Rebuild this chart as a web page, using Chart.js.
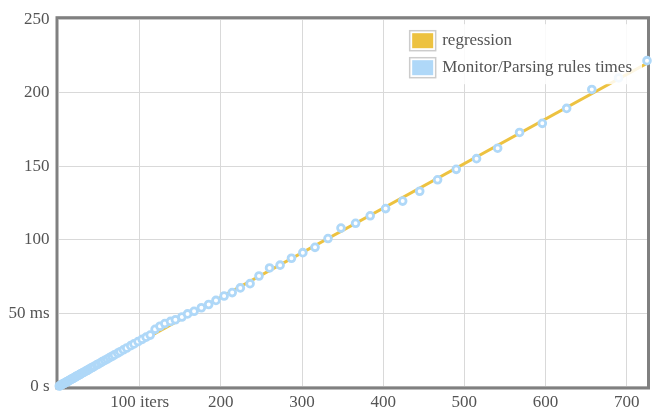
<!DOCTYPE html>
<html>
<head>
<meta charset="utf-8">
<script src="https://cdn.jsdelivr.net/npm/chart.js@4.4.1/dist/chart.umd.min.js"></script>
<style>
  html, body { margin: 0; padding: 0; background: #fff; }
  #wrap { width: 654px; height: 410px; }
</style>
</head>
<body>
<div id="wrap"><canvas id="timeChart"></canvas></div>
<script>
// iterations per sample and the measured total time (ms)
var iters = [1, 2, 3, 4, 5, 6, 7, 8, 9, 10,
    11, 12, 13, 14, 15, 16, 17, 18, 19, 20,
    21, 22, 23, 25, 26, 27, 28, 30, 31, 33,
    35, 36, 38, 40, 42, 44, 47, 49, 52, 54,
    57, 60, 63, 66, 69, 73, 76, 80, 84, 89,
    93, 98, 103, 108, 113, 119, 125, 131, 138, 144,
    152, 159, 167, 176, 185, 194, 204, 214, 224, 236,
    247, 260, 273, 287, 301, 316, 332, 348, 366, 384,
    403, 424, 445, 467, 490, 515, 541, 568, 596, 626,
    657, 690, 725];
var times = [0.3, 0.6, 0.9, 1.3, 1.6, 1.9, 2.2, 2.5, 2.8, 3.1,
    3.4, 3.7, 4.1, 4.4, 4.7, 5.0, 5.3, 5.6, 5.9, 6.2,
    6.6, 6.9, 7.2, 7.8, 8.1, 8.4, 8.7, 9.4, 9.7, 10.3,
    10.9, 11.2, 11.9, 12.5, 13.1, 13.7, 14.7, 15.3, 16.2, 16.9,
    17.8, 18.7, 19.7, 20.6, 21.5, 22.7, 23.7, 25.0, 26.2, 27.8,
    29.0, 30.6, 32.1, 33.6, 35.0, 38.9, 41.0, 42.8, 44.3, 45.4,
    47.3, 49.4, 51.2, 53.6, 55.8, 58.6, 61.6, 63.9, 67.1, 70.0,
    75.2, 80.7, 82.6, 87.3, 91.1, 94.7, 100.7, 107.8, 111.1, 116.2,
    121.1, 126.2, 132.9, 140.7, 147.8, 155.1, 162.2, 172.9, 179.1, 189.3,
    202.2, 210.0, 221.8];

// regression line (start and end)
var regIters = [0, 725];
var regTimes = [0, 220];

var xTicks = [100, 200, 300, 400, 500, 600, 700];
var xTickLabels = ['100 iters', '200', '300', '400', '500', '600', '700'];
var yTicks = [0, 50, 100, 150, 200, 250];
var yTickLabels = ['0 s', '50 ms', '100', '150', '200', '250'];

var textColor = '#545454';
var fontFace = '"Liberation Serif", "Times New Roman", serif';

function toPoints(xs, ys) {
    return xs.map(function (x, i) { return { x: x, y: ys[i] }; });
}

// grey frame round the plot area, under the data
var framePlugin = {
    id: 'frame',
    beforeDatasetsDraw: function (chart) {
        var a = chart.chartArea, ctx = chart.ctx;
        ctx.save();
        ctx.strokeStyle = '#808080';
        ctx.lineWidth = 3;
        ctx.strokeRect(a.left - 1.5, a.top - 1.5, a.right - a.left + 3, a.bottom - a.top + 3);
        ctx.restore();
    }
};

// legend box in the top right corner, over the data
var legendPlugin = {
    id: 'boxLegend',
    afterDatasetsDraw: function (chart) {
        var a = chart.chartArea, ctx = chart.ctx;
        var sets = chart.data.datasets;
        ctx.save();
        ctx.font = '17px ' + fontFace;
        var textW = 0;
        sets.forEach(function (d) { textW = Math.max(textW, ctx.measureText(d.label).width); });
        var right = a.right - 5, top = a.top + 5;
        var textX = right - 10 - textW;
        var swX = textX - 33;
        var left = swX - 6;
        ctx.fillStyle = 'rgba(255,255,255,0.85)';
        ctx.fillRect(left, top, right - left, 60);
        sets.forEach(function (d, i) {
            var cy = top + 16.5 + i * 27;
            ctx.strokeStyle = '#cccccc';
            ctx.lineWidth = 1.5;
            ctx.strokeRect(swX + 0.5, cy - 10, 26, 20);
            ctx.fillStyle = d.legendColor;
            ctx.fillRect(swX + 3, cy - 7.5, 21, 15);
            ctx.fillStyle = textColor;
            ctx.textBaseline = 'middle';
            ctx.textAlign = 'left';
            ctx.fillText(d.label, textX, cy);
        });
        ctx.restore();
    }
};

new Chart(document.getElementById('timeChart'), {
    type: 'scatter',
    data: {
        datasets: [{
            label: 'regression',
            data: toPoints(regIters, regTimes),
            showLine: true,
            borderColor: '#edc240',
            legendColor: '#edc240',
            borderWidth: 3,
            pointRadius: 0,
            order: 2
        }, {
            label: 'Monitor/Parsing rules times',
            data: toPoints(iters, times),
            borderColor: '#afd8f8',
            legendColor: '#afd8f8',
            backgroundColor: '#ffffff',
            pointRadius: 3.4,
            borderWidth: 2.8,
            clip: false,
            order: 1
        }]
    },
    options: {
        responsive: true,
        maintainAspectRatio: false,
        animation: false,
        layout: { padding: { top: 11.5, right: 7, left: 0, bottom: 0 } },
        plugins: {
            legend: { display: false },
            tooltip: { enabled: false }
        },
        scales: {
            x: {
                type: 'linear',
                min: 0,
                max: 725,
                afterBuildTicks: function (scale) {
                    scale.ticks = xTicks.map(function (v) { return { value: v }; });
                },
                afterFit: function (scale) { scale.height = 23.5; },
                grid: { color: '#d9d9d9', lineWidth: 1, drawTicks: false },
                border: { display: false },
                ticks: {
                    padding: 6,
                    maxRotation: 0,
                    autoSkip: false,
                    color: textColor,
                    font: { family: fontFace, size: 17 },
                    callback: function (v) {
                        var i = xTicks.indexOf(v);
                        return i < 0 ? null : xTickLabels[i];
                    }
                }
            },
            y: {
                type: 'linear',
                min: 0,
                max: 250,
                afterBuildTicks: function (scale) {
                    scale.ticks = yTicks.map(function (v) { return { value: v }; });
                },
                afterFit: function (scale) { scale.width = 58.5; },
                grid: { color: '#d9d9d9', lineWidth: 1, drawTicks: false },
                border: { display: false },
                ticks: {
                    padding: 9,
                    autoSkip: false,
                    color: textColor,
                    font: { family: fontFace, size: 17 },
                    callback: function (v) {
                        var i = yTicks.indexOf(v);
                        return i < 0 ? null : yTickLabels[i];
                    }
                }
            }
        }
    },
    plugins: [framePlugin, legendPlugin]
});
</script>
</body>
</html>
